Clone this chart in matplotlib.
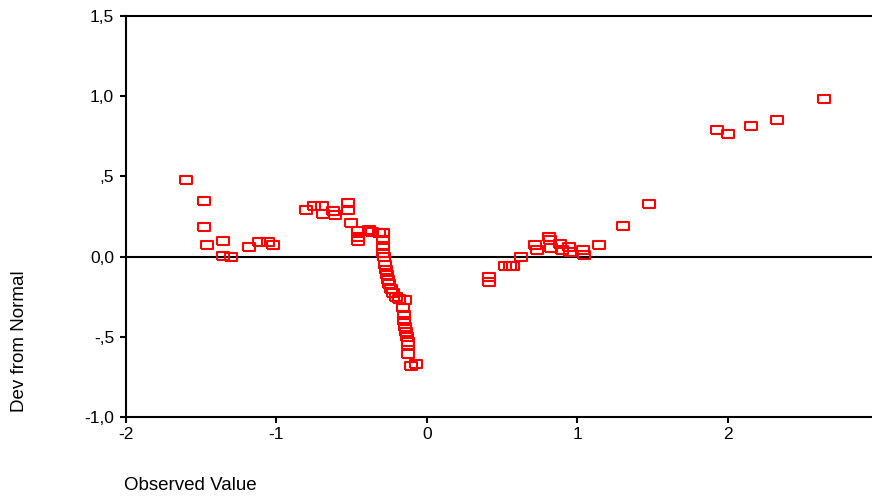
import matplotlib

matplotlib.use("Agg")
import matplotlib.pyplot as plt

plt.rcParams["font.family"] = ["Liberation Sans", "DejaVu Sans"]

obs_left = [-1.599, -1.480, -1.480, -1.462, -1.357, -1.357, -1.304, -1.185, -1.118, -1.058, -1.025]
dev_left = [0.476, 0.347, 0.183, 0.070, 0.099, 0.006, -0.002, 0.062, 0.091, 0.091, 0.070]

obs_mid = [-0.804, -0.751, -0.700, -0.691, -0.625, -0.611, -0.523, -0.523, -0.505,
           -0.456, -0.456, -0.456, -0.383, -0.367, -0.317, -0.294, -0.294, -0.294,
           -0.290, -0.284, -0.279, -0.274, -0.268, -0.261, -0.252, -0.241, -0.228,
           -0.206, -0.184, -0.146, -0.157, -0.153, -0.153, -0.146, -0.142, -0.135,
           -0.128, -0.124, -0.124, -0.108, -0.073]
dev_mid = [0.291, 0.315, 0.315, 0.266, 0.286, 0.259, 0.332, 0.291, 0.211,
           0.160, 0.124, 0.099, 0.166, 0.155, 0.149, 0.145, 0.103, 0.066,
           0.024, 0.000, -0.052, -0.084, -0.115, -0.146, -0.173, -0.204, -0.229,
           -0.254, -0.266, -0.271, -0.322, -0.364, -0.400, -0.437, -0.468, -0.499,
           -0.531, -0.551, -0.609, -0.680, -0.671]

obs_right = [0.414, 0.414, 0.518, 0.551, 0.573, 0.622, 0.718, 0.729, 0.813, 0.817,
             0.824, 0.884, 0.895, 0.946, 0.950, 1.034, 1.043, 1.145, 1.304, 1.477,
             1.929, 1.998, 2.155, 2.328, 2.640]
dev_right = [-0.129, -0.156, -0.059, -0.059, -0.059, 0.000, 0.072, 0.041, 0.124, 0.103,
             0.052, 0.079, 0.041, 0.062, 0.031, 0.041, 0.010, 0.072, 0.191, 0.328,
             0.789, 0.764, 0.816, 0.852, 0.981]

x_ticks = [-2, -1, 0, 1, 2]
y_ticks = [-1.0, -0.5, 0.0, 0.5, 1.0, 1.5]
y_tick_labels = ["-1,0", "-,5", "0,0", ",5", "1,0", "1,5"]

obs = obs_left + obs_mid + obs_right
dev = dev_left + dev_mid + dev_right

# wide open box marker like the SPSS one
box = [(-1, -0.58), (1, -0.58), (1, 0.58), (-1, 0.58), (-1, -0.58)]

fig = plt.figure(figsize=(8.72, 5.0), dpi=100)
ax = fig.add_axes([126 / 872, 1 - 417 / 500, 1 - 126 / 872, (417 - 16) / 500])

ax.plot(obs, dev, linestyle="none", marker=box, markersize=9,
        markerfacecolor="none", markeredgecolor="#ff0000", markeredgewidth=1.5)
ax.axhline(0, color="black", linewidth=1.5, zorder=1)

ax.set_xlim(-2, 2.957)
ax.set_ylim(-1.0, 1.5)
ax.set_xticks(x_ticks)
ax.set_xticklabels([str(t) for t in x_ticks])
ax.set_yticks(y_ticks)
ax.set_yticklabels(y_tick_labels)

ax.spines["right"].set_visible(False)
for side in ["left", "top", "bottom"]:
    ax.spines[side].set_linewidth(1.5)
ax.tick_params(direction="out", length=4.5, width=1.5, labelsize=12.5)
ax.tick_params(axis="y", pad=4)
ax.tick_params(axis="x", pad=3)

fig.text(124 / 872, 1 - 485 / 500, "Observed Value", fontsize=13.5, va="center", ha="left")
fig.text(20 / 872, 1 - 341 / 500, "Dev from Normal", fontsize=13.5, rotation=90,
         va="center", ha="center")

fig.savefig("out.png", dpi=100)
